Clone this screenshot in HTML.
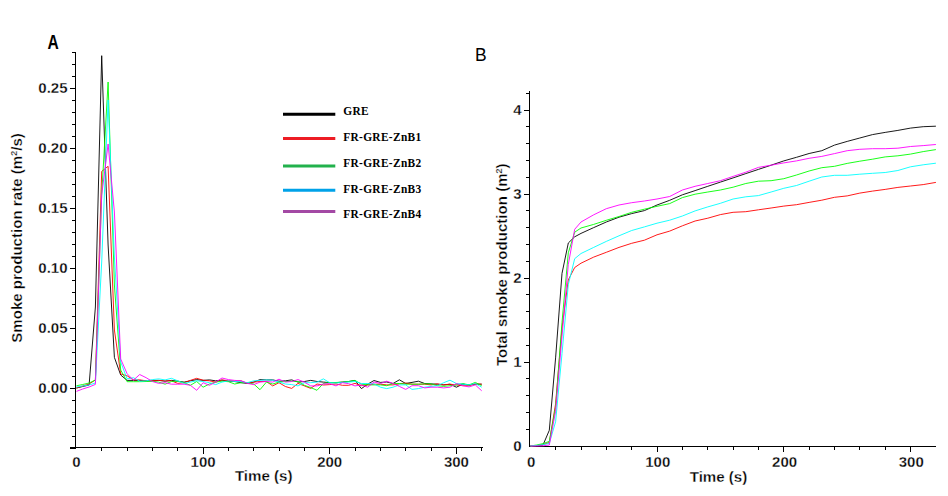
<!DOCTYPE html>
<html><head><meta charset="utf-8"><title>Smoke production</title>
<style>
html,body{margin:0;padding:0;background:#fff;}
body{width:948px;height:496px;overflow:hidden;}
svg{display:block;}
text{font-family:"Liberation Sans",sans-serif;fill:#000;}
.b{font-weight:bold;font-size:15px;stroke:#fff;stroke-width:0.3px;}
.t{font-size:15.1px;}
.lg{font-family:"Liberation Serif",serif;font-weight:bold;font-size:12.65px;letter-spacing:0.38px;}
.ax{stroke:#000;stroke-width:1;shape-rendering:crispEdges;fill:none;}
.cv{fill:none;stroke-width:0.9;stroke-linejoin:round;}
</style></head><body>
<svg width="948" height="496" viewBox="0 0 948 496">
<rect x="0" y="0" width="948" height="496" fill="#fff"/>

<g class="ax">
<line x1="75.5" y1="52" x2="75.5" y2="448"/>
<line x1="70" y1="447.5" x2="483" y2="447.5"/>
<line x1="70" y1="448.5" x2="76" y2="448.5"/>
<line x1="72" y1="436.5" x2="76" y2="436.5"/>
<line x1="72" y1="424.5" x2="76" y2="424.5"/>
<line x1="72" y1="412.5" x2="76" y2="412.5"/>
<line x1="72" y1="400.5" x2="76" y2="400.5"/>
<line x1="70" y1="388.5" x2="76" y2="388.5"/>
<line x1="72" y1="376.5" x2="76" y2="376.5"/>
<line x1="72" y1="364.5" x2="76" y2="364.5"/>
<line x1="72" y1="352.5" x2="76" y2="352.5"/>
<line x1="72" y1="340.5" x2="76" y2="340.5"/>
<line x1="70" y1="328.5" x2="76" y2="328.5"/>
<line x1="72" y1="316.5" x2="76" y2="316.5"/>
<line x1="72" y1="304.5" x2="76" y2="304.5"/>
<line x1="72" y1="292.5" x2="76" y2="292.5"/>
<line x1="72" y1="280.5" x2="76" y2="280.5"/>
<line x1="70" y1="268.5" x2="76" y2="268.5"/>
<line x1="72" y1="256.5" x2="76" y2="256.5"/>
<line x1="72" y1="244.5" x2="76" y2="244.5"/>
<line x1="72" y1="232.5" x2="76" y2="232.5"/>
<line x1="72" y1="220.5" x2="76" y2="220.5"/>
<line x1="70" y1="208.5" x2="76" y2="208.5"/>
<line x1="72" y1="196.5" x2="76" y2="196.5"/>
<line x1="72" y1="184.5" x2="76" y2="184.5"/>
<line x1="72" y1="172.5" x2="76" y2="172.5"/>
<line x1="72" y1="160.5" x2="76" y2="160.5"/>
<line x1="70" y1="148.5" x2="76" y2="148.5"/>
<line x1="72" y1="136.5" x2="76" y2="136.5"/>
<line x1="72" y1="124.5" x2="76" y2="124.5"/>
<line x1="72" y1="112.5" x2="76" y2="112.5"/>
<line x1="72" y1="100.5" x2="76" y2="100.5"/>
<line x1="70" y1="88.5" x2="76" y2="88.5"/>
<line x1="72" y1="76.5" x2="76" y2="76.5"/>
<line x1="72" y1="64.5" x2="76" y2="64.5"/>
<line x1="72" y1="52.5" x2="76" y2="52.5"/>
<line x1="101.5" y1="447" x2="101.5" y2="451"/>
<line x1="127.5" y1="447" x2="127.5" y2="451"/>
<line x1="152.5" y1="447" x2="152.5" y2="451"/>
<line x1="177.5" y1="447" x2="177.5" y2="451"/>
<line x1="203.5" y1="447" x2="203.5" y2="454"/>
<line x1="228.5" y1="447" x2="228.5" y2="451"/>
<line x1="253.5" y1="447" x2="253.5" y2="451"/>
<line x1="279.5" y1="447" x2="279.5" y2="451"/>
<line x1="304.5" y1="447" x2="304.5" y2="451"/>
<line x1="329.5" y1="447" x2="329.5" y2="454"/>
<line x1="355.5" y1="447" x2="355.5" y2="451"/>
<line x1="380.5" y1="447" x2="380.5" y2="451"/>
<line x1="405.5" y1="447" x2="405.5" y2="451"/>
<line x1="431.5" y1="447" x2="431.5" y2="451"/>
<line x1="456.5" y1="447" x2="456.5" y2="454"/>
<line x1="481.5" y1="447" x2="481.5" y2="451"/>
</g>
<text class="b" x="67.5" y="393.0" text-anchor="end">0.00</text>
<text class="b" x="67.5" y="333.0" text-anchor="end">0.05</text>
<text class="b" x="67.5" y="273.0" text-anchor="end">0.10</text>
<text class="b" x="67.5" y="213.0" text-anchor="end">0.15</text>
<text class="b" x="67.5" y="153.0" text-anchor="end">0.20</text>
<text class="b" x="67.5" y="93.0" text-anchor="end">0.25</text>
<text class="b" x="76.4" y="467.4" text-anchor="middle">0</text>
<text class="b" x="203.1" y="467.4" text-anchor="middle">100</text>
<text class="b" x="329.7" y="467.4" text-anchor="middle">200</text>
<text class="b" x="456.4" y="467.4" text-anchor="middle">300</text>
<text class="b t" x="263.7" y="480.5" text-anchor="middle">Time (s)</text>
<text class="b t" transform="translate(21.6,238) rotate(-90)" text-anchor="middle">Smoke production rate (m<tspan font-size="9px" dy="-5">2</tspan><tspan dy="5">/s)</tspan></text>
<text transform="translate(47.6,48.9) scale(0.8,1)" font-size="19.5px" font-weight="bold">A</text>
<polyline class="cv" stroke="#000000" points="76.4,388.0 82.7,386.5 89.1,385.0 95.4,307.0 101.7,55.7 108.1,245.0 114.4,357.4 120.7,375.0 127.1,380.4 133.4,380.4 139.7,380.4 146.1,380.8 152.4,380.8 158.7,380.4 165.1,381.2 171.4,380.4 177.7,381.2 184.1,382.1 190.4,380.8 196.7,379.6 203.1,380.4 209.4,379.9 215.7,380.8 222.0,380.2 228.4,381.2 234.7,381.5 241.0,382.7 247.4,383.4 253.7,382.1 260.0,379.6 266.4,379.9 272.7,379.9 279.0,381.2 285.4,380.8 291.7,379.9 298.0,382.1 304.4,381.5 310.7,380.4 317.0,381.5 323.4,382.1 329.7,382.7 336.0,382.7 342.4,382.1 348.7,381.5 355.0,380.4 361.4,388.6 367.7,384.2 374.0,380.5 380.4,382.4 386.7,382.0 393.0,383.5 399.4,379.8 405.7,383.5 412.0,382.4 418.4,381.2 424.7,383.5 431.0,383.9 437.4,384.2 443.7,384.9 450.0,384.2 456.4,387.2 462.7,384.2 469.0,384.9 475.3,384.2 481.7,384.2"/>
<polyline class="cv" stroke="#ff0000" points="76.4,388.0 82.7,386.0 89.1,384.0 95.4,380.0 101.7,171.4 108.1,166.3 114.4,330.0 120.7,374.0 127.1,375.8 133.4,379.9 139.7,379.9 146.1,380.8 152.4,380.4 158.7,380.4 165.1,380.8 171.4,380.8 177.7,383.4 184.1,382.7 190.4,380.4 196.7,378.3 203.1,380.2 209.4,380.8 215.7,382.1 222.0,379.9 228.4,380.8 234.7,381.2 241.0,380.8 247.4,383.4 253.7,382.1 260.0,381.5 266.4,381.5 272.7,385.9 279.0,382.7 285.4,386.5 291.7,388.4 298.0,383.4 304.4,385.9 310.7,388.4 317.0,384.0 323.4,385.0 329.7,384.6 336.0,384.0 342.4,385.3 348.7,385.3 355.0,383.4 361.4,385.7 367.7,384.9 374.0,384.2 380.4,384.2 386.7,384.9 393.0,384.9 399.4,383.9 405.7,383.0 412.0,384.2 418.4,384.2 424.7,384.2 431.0,384.9 437.4,383.9 443.7,384.9 450.0,384.2 456.4,384.9 462.7,385.7 469.0,385.7 475.3,383.9 481.7,384.2"/>
<polyline class="cv" stroke="#00ff00" points="76.4,385.8 82.7,384.5 89.1,383.0 95.4,380.0 101.7,195.0 108.1,82.0 114.4,285.0 120.7,370.0 127.1,381.7 133.4,381.7 139.7,381.7 146.1,381.5 152.4,381.2 158.7,382.1 165.1,384.2 171.4,381.5 177.7,381.2 184.1,382.7 190.4,385.3 196.7,381.5 203.1,387.2 209.4,384.0 215.7,382.1 222.0,381.2 228.4,381.7 234.7,384.0 241.0,382.7 247.4,382.7 253.7,384.0 260.0,389.7 266.4,382.1 272.7,384.0 279.0,382.1 285.4,381.5 291.7,381.2 298.0,381.5 304.4,385.3 310.7,387.5 317.0,390.3 323.4,383.4 329.7,382.5 336.0,382.5 342.4,382.1 348.7,381.5 355.0,380.4 361.4,384.2 367.7,384.9 374.0,384.9 380.4,384.9 386.7,385.7 393.0,383.5 399.4,383.5 405.7,384.2 412.0,384.2 418.4,384.2 424.7,383.9 431.0,383.9 437.4,385.7 443.7,386.4 450.0,385.7 456.4,384.9 462.7,383.5 469.0,384.9 475.3,382.4 481.7,385.7"/>
<polyline class="cv" stroke="#00ffff" points="76.4,387.0 82.7,386.0 89.1,385.0 95.4,383.0 101.7,262.0 108.1,100.0 114.4,257.0 120.7,362.0 127.1,378.9 133.4,377.7 139.7,381.2 146.1,380.8 152.4,379.6 158.7,378.9 165.1,379.9 171.4,378.3 177.7,380.8 184.1,383.4 190.4,382.1 196.7,380.8 203.1,381.5 209.4,382.7 215.7,384.6 222.0,382.1 228.4,380.8 234.7,381.5 241.0,381.5 247.4,382.7 253.7,380.8 260.0,380.4 266.4,379.9 272.7,380.2 279.0,382.1 285.4,384.0 291.7,384.6 298.0,385.9 304.4,382.7 310.7,382.7 317.0,382.1 323.4,378.9 329.7,382.7 336.0,383.0 342.4,382.5 348.7,382.1 355.0,381.5 361.4,383.5 367.7,383.5 374.0,383.9 380.4,387.2 386.7,388.6 393.0,387.2 399.4,384.9 405.7,384.9 412.0,389.4 418.4,388.6 424.7,387.2 431.0,386.4 437.4,385.7 443.7,382.7 450.0,380.2 456.4,383.5 462.7,384.2 469.0,384.9 475.3,383.5 481.7,387.2"/>
<polyline class="cv" stroke="#ff00ff" points="76.4,391.4 82.7,389.0 89.1,387.0 95.4,384.4 101.7,195.0 108.1,144.0 114.4,212.0 120.7,359.0 127.1,373.7 133.4,380.2 139.7,374.5 146.1,377.7 152.4,381.5 158.7,383.4 165.1,382.7 171.4,384.2 177.7,384.2 184.1,384.2 190.4,385.3 196.7,390.3 203.1,382.7 209.4,385.3 215.7,382.1 222.0,378.0 228.4,379.6 234.7,380.4 241.0,380.8 247.4,383.4 253.7,384.6 260.0,382.1 266.4,381.5 272.7,382.1 279.0,379.2 285.4,382.1 291.7,381.5 298.0,379.6 304.4,382.1 310.7,385.9 317.0,385.9 323.4,384.0 329.7,383.7 336.0,385.9 342.4,382.7 348.7,383.7 355.0,385.9 361.4,384.9 367.7,387.2 374.0,382.0 380.4,383.5 386.7,381.2 393.0,383.5 399.4,386.4 405.7,389.4 412.0,385.7 418.4,385.7 424.7,387.9 431.0,387.2 437.4,387.2 443.7,387.9 450.0,387.2 456.4,383.5 462.7,385.7 469.0,386.9 475.3,384.9 481.7,390.8"/>
<line x1="283" y1="114.3" x2="335.3" y2="114.3" stroke="#000000" stroke-width="3"/>
<text class="lg" transform="translate(343.2,114.9) scale(0.9,1)">GRE</text>
<line x1="283" y1="138.5" x2="335.3" y2="138.5" stroke="#ed1c24" stroke-width="3"/>
<text class="lg" transform="translate(343.2,140.6) scale(0.9,1)">FR-GRE-ZnB1</text>
<line x1="283" y1="165.9" x2="335.3" y2="165.9" stroke="#22b14c" stroke-width="3"/>
<text class="lg" transform="translate(343.2,166.9) scale(0.9,1)">FR-GRE-ZnB2</text>
<line x1="283" y1="190.2" x2="335.3" y2="190.2" stroke="#00a2e8" stroke-width="3"/>
<text class="lg" transform="translate(343.2,192.8) scale(0.9,1)">FR-GRE-ZnB3</text>
<line x1="283" y1="211.6" x2="335.3" y2="211.6" stroke="#a349a4" stroke-width="3"/>
<text class="lg" transform="translate(343.2,217.7) scale(0.9,1)">FR-GRE-ZnB4</text>
<g class="ax">
<line x1="529.5" y1="91" x2="529.5" y2="447"/>
<line x1="529" y1="446.5" x2="935.6" y2="446.5"/>
<line x1="526" y1="429.5" x2="530" y2="429.5"/>
<line x1="526" y1="412.5" x2="530" y2="412.5"/>
<line x1="526" y1="395.5" x2="530" y2="395.5"/>
<line x1="526" y1="378.5" x2="530" y2="378.5"/>
<line x1="524" y1="362.5" x2="530" y2="362.5"/>
<line x1="526" y1="345.5" x2="530" y2="345.5"/>
<line x1="526" y1="328.5" x2="530" y2="328.5"/>
<line x1="526" y1="311.5" x2="530" y2="311.5"/>
<line x1="526" y1="294.5" x2="530" y2="294.5"/>
<line x1="524" y1="278.5" x2="530" y2="278.5"/>
<line x1="526" y1="261.5" x2="530" y2="261.5"/>
<line x1="526" y1="244.5" x2="530" y2="244.5"/>
<line x1="526" y1="227.5" x2="530" y2="227.5"/>
<line x1="526" y1="210.5" x2="530" y2="210.5"/>
<line x1="524" y1="194.5" x2="530" y2="194.5"/>
<line x1="526" y1="177.5" x2="530" y2="177.5"/>
<line x1="526" y1="160.5" x2="530" y2="160.5"/>
<line x1="526" y1="143.5" x2="530" y2="143.5"/>
<line x1="526" y1="126.5" x2="530" y2="126.5"/>
<line x1="524" y1="110.5" x2="530" y2="110.5"/>
<line x1="526" y1="93.5" x2="530" y2="93.5"/>
<line x1="555.5" y1="446" x2="555.5" y2="450"/>
<line x1="581.5" y1="446" x2="581.5" y2="450"/>
<line x1="606.5" y1="446" x2="606.5" y2="450"/>
<line x1="631.5" y1="446" x2="631.5" y2="450"/>
<line x1="657.5" y1="446" x2="657.5" y2="452"/>
<line x1="682.5" y1="446" x2="682.5" y2="450"/>
<line x1="707.5" y1="446" x2="707.5" y2="450"/>
<line x1="733.5" y1="446" x2="733.5" y2="450"/>
<line x1="758.5" y1="446" x2="758.5" y2="450"/>
<line x1="783.5" y1="446" x2="783.5" y2="452"/>
<line x1="809.5" y1="446" x2="809.5" y2="450"/>
<line x1="834.5" y1="446" x2="834.5" y2="450"/>
<line x1="859.5" y1="446" x2="859.5" y2="450"/>
<line x1="885.5" y1="446" x2="885.5" y2="450"/>
<line x1="910.5" y1="446" x2="910.5" y2="452"/>
</g>
<text class="b" x="521.5" y="451.0" text-anchor="end">0</text>
<text class="b" x="521.5" y="367.0" text-anchor="end">1</text>
<text class="b" x="521.5" y="283.0" text-anchor="end">2</text>
<text class="b" x="521.5" y="199.0" text-anchor="end">3</text>
<text class="b" x="521.5" y="115.0" text-anchor="end">4</text>
<text class="b" x="531.1" y="466.8" text-anchor="middle">0</text>
<text class="b" x="657.8" y="466.8" text-anchor="middle">100</text>
<text class="b" x="784.6" y="466.8" text-anchor="middle">200</text>
<text class="b" x="911.3" y="466.8" text-anchor="middle">300</text>
<text class="b t" x="718.5" y="482.1" text-anchor="middle">Time (s)</text>
<text class="b t" transform="translate(506.5,264.7) rotate(-90)" text-anchor="middle">Total smoke production (m<tspan font-size="9px" dy="-5">2</tspan><tspan dy="5">)</tspan></text>
<text transform="translate(475,61.3) scale(0.92,1)" font-size="19px">B</text>
<polyline class="cv" stroke="#000000" points="530.3,446.0 536.6,445.7 543.0,445.0 549.3,430.3 555.6,357.9 562.0,273.4 568.3,243.0 574.7,236.8 581.0,233.4 593.7,227.6 606.3,222.0 619.0,217.2 631.7,213.6 644.4,210.6 657.0,205.0 669.7,200.3 682.4,194.8 695.1,190.6 707.8,186.3 720.4,182.1 733.1,177.9 745.8,173.6 758.4,169.4 771.1,165.2 783.8,160.9 796.5,157.3 809.1,153.5 821.8,150.7 834.5,145.1 847.2,141.4 859.8,138.0 872.5,134.6 885.2,132.4 897.9,130.4 910.5,128.1 923.2,126.7 935.9,126.2"/>
<polyline class="cv" stroke="#ff0000" points="530.3,446.0 536.6,445.7 543.0,444.6 549.3,442.5 555.6,403.8 562.0,328.2 568.3,279.9 574.7,267.5 581.0,263.2 593.7,257.1 606.3,252.3 619.0,247.4 631.7,243.3 644.4,240.2 657.0,234.8 669.7,231.1 682.4,225.8 695.1,221.0 707.8,218.2 720.4,214.6 733.1,212.3 745.8,211.7 758.4,209.8 771.1,208.0 783.8,206.1 796.5,204.7 809.1,202.4 821.8,200.2 834.5,197.3 847.2,195.9 859.8,193.1 872.5,191.1 885.2,189.4 897.9,187.4 910.5,186.0 923.2,184.6 935.9,182.4"/>
<polyline class="cv" stroke="#00ff00" points="530.3,446.0 536.6,445.0 543.0,443.6 549.3,441.4 555.6,407.2 562.0,322.3 568.3,252.8 574.7,232.2 581.0,228.0 593.7,224.4 606.3,220.3 619.0,216.5 631.7,212.3 644.4,209.2 657.0,206.3 669.7,203.6 682.4,197.6 695.1,194.2 707.8,192.0 720.4,190.0 733.1,187.2 745.8,183.5 758.4,181.2 771.1,180.7 783.8,178.7 796.5,175.0 809.1,171.0 821.8,167.7 834.5,166.3 847.2,163.4 859.8,161.2 872.5,159.2 885.2,156.9 897.9,155.8 910.5,154.1 923.2,151.6 935.9,149.6"/>
<polyline class="cv" stroke="#00ffff" points="530.3,446.0 536.6,445.5 543.0,444.7 549.3,443.4 555.6,421.8 562.0,353.6 568.3,284.6 574.7,258.7 581.0,253.5 593.7,247.4 606.3,241.4 619.0,235.8 631.7,230.5 644.4,226.9 657.0,223.2 669.7,220.2 682.4,216.0 695.1,210.9 707.8,206.9 720.4,203.3 733.1,199.0 745.8,196.8 758.4,195.6 771.1,192.0 783.8,188.3 796.5,185.5 809.1,181.2 821.8,177.0 834.5,175.3 847.2,175.3 859.8,174.2 872.5,173.3 885.2,172.5 897.9,170.5 910.5,166.8 923.2,164.8 935.9,163.2"/>
<polyline class="cv" stroke="#ff00ff" points="530.3,446.0 536.6,446.0 543.0,445.8 549.3,445.0 555.6,411.3 562.0,336.4 568.3,264.4 574.7,229.3 581.0,222.0 593.7,214.8 606.3,208.7 619.0,205.0 631.7,202.7 644.4,201.0 657.0,199.0 669.7,196.5 682.4,190.0 695.1,186.3 707.8,183.5 720.4,180.7 733.1,176.4 745.8,172.2 758.4,167.4 771.1,165.2 783.8,162.9 796.5,160.9 809.1,158.3 821.8,156.4 834.5,153.6 847.2,150.7 859.8,149.3 872.5,148.7 885.2,148.7 897.9,148.2 910.5,146.5 923.2,145.6 935.9,144.5"/>
</svg></body></html>
